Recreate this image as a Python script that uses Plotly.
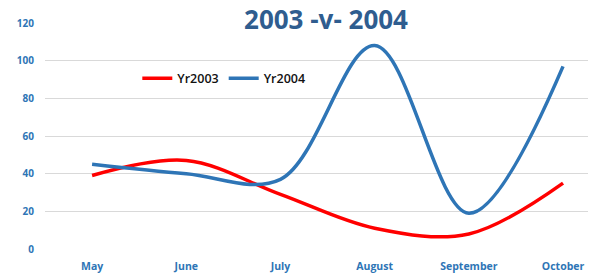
import plotly.graph_objects as go

months = ["May", "June", "July", "August", "September", "October"]
yr2003 = [39, 47, 29, 11, 8, 35]
yr2004 = [45, 40, 37, 108, 19, 97]
y_ticks = [0, 20, 40, 60, 80, 100, 120]

tick_color = "#2E75B6"

fig = go.Figure()
fig.add_trace(go.Scatter(x=months, y=yr2003, name="Yr2003", mode="lines",
                         line=dict(color="#FF0000", width=3.5, shape="spline", smoothing=1)))
fig.add_trace(go.Scatter(x=months, y=yr2004, name="Yr2004", mode="lines",
                         line=dict(color="#2E75B6", width=3.5, shape="spline", smoothing=1)))

fig.update_layout(
    width=597, height=277,
    margin=dict(l=45, r=9, t=23, b=28),
    paper_bgcolor="white", plot_bgcolor="white",
    title=dict(text="<b>2003 -v- 2004</b>", x=326/597, xanchor="center", y=1-20/277, yanchor="middle",
               font=dict(family="Open Sans", size=26, color="#2F5D8F")),
    showlegend=True,
    legend=dict(orientation="h", x=0.17, y=0.754, xanchor="left", yanchor="middle",
                font=dict(family="Open Sans", size=12.5, color="#111111", weight=600),
                bgcolor="rgba(0,0,0,0)", itemwidth=30, tracegroupgap=0),
    xaxis=dict(type="category", range=[-0.5, 5.265], showgrid=False, zeroline=False,
               showline=False, ticks="", automargin=False,
               tickfont=dict(family="Open Sans", size=10.5, color=tick_color, weight="bold"),
               ticklabelstandoff=9),
    yaxis=dict(range=[0, 120], tickvals=y_ticks, showgrid=True, gridcolor="#D9D9D9", gridwidth=1,
               zeroline=False, showline=False, ticks="", automargin=False,
               tickfont=dict(family="Open Sans", size=10, color=tick_color, weight="bold"),
               ticklabelstandoff=10),
)

fig.write_html("out.html", config={"displayModeBar": False},
               post_script="document.body.style.margin='0';document.body.style.overflow='hidden';")
